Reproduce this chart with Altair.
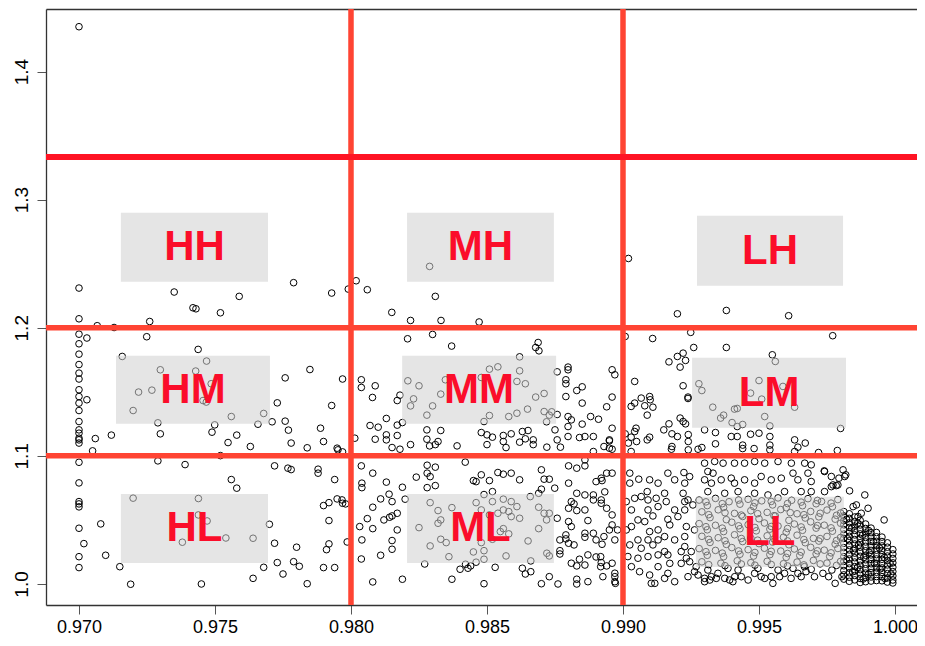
import altair as alt
import pandas as pd

# ---------------- data ----------------
# scatter points, grouped by region of the plot
pts_left = [
    (0.9700, 1.435),
    (0.9700, 1.231), (0.9700, 1.207), (0.97067, 1.2016), (0.97129, 1.2002), (0.9700, 1.195), (0.9700, 1.1875),
    (0.97029, 1.192), (0.9700, 1.1794), (0.9700, 1.1713), (0.9700, 1.1646), (0.9700, 1.160), (0.9700, 1.1516),
    (0.9700, 1.1463), (0.97029, 1.1438), (0.9700, 1.1412), (0.9700, 1.1354), (0.9700, 1.1268), (0.9700, 1.1203),
    (0.9700, 1.1177), (0.9700, 1.1138), (0.9700, 1.110), (0.9700, 1.1125), (0.9706, 1.1135), (0.97119, 1.1162),
    (0.97159, 1.1776), (0.97249, 1.193), (0.97260, 1.2049), (0.97350, 1.2279), (0.97419, 1.2156), (0.9743, 1.2148),
    (0.97520, 1.2117), (0.97589, 1.2245), (0.97789, 1.2352), (0.97929, 1.2271), (0.97438, 1.1831), (0.97469, 1.174),
    (0.97299, 1.1672), (0.97429, 1.1662), (0.97486, 1.1563), (0.97219, 1.1498), (0.97268, 1.1513), (0.97456, 1.1432),
    (0.97468, 1.142), (0.97199, 1.1354), (0.9729, 1.1258), (0.97299, 1.1172), (0.97499, 1.1242), (0.97489, 1.1185),
    (0.9756, 1.1307), (0.9758, 1.1162), (0.97548, 1.1104), (0.9763, 1.1073), (0.97679, 1.1331), (0.97658, 1.1247),
    (0.97729, 1.1414), (0.97758, 1.1609), (0.9771, 1.1266), (0.97758, 1.1271), (0.9777, 1.1201), (0.9778, 1.110),
    (0.97849, 1.1674), (0.97929, 1.1393), (0.97888, 1.1216), (0.97899, 1.1112), (0.97969, 1.160), (0.97839, 1.1063),
    (0.97949, 1.106), (0.9705, 1.1039), (0.9700, 1.095), (0.9729, 1.0961), (0.9739, 1.0932), (0.9752, 1.1002),
    (0.97719, 1.0922), (0.97768, 1.0904), (0.9778, 1.0893), (0.97879, 1.0896), (0.97879, 1.0865), (0.9794, 1.0815),
    (0.9756, 1.0815), (0.9758, 1.0748), (0.9700, 1.0789), (0.9700, 1.0643), (0.9700, 1.0625), (0.9700, 1.0602),
    (0.9700, 1.0435), (0.9708, 1.0469), (0.97018, 1.0315), (0.9700, 1.0213), (0.9700, 1.0128), (0.97098, 1.0224),
    (0.9715, 1.0135), (0.9719, 0.9998), (0.97199, 1.067), (0.97439, 1.0667), (0.97439, 1.0539), (0.97471, 1.0492),
    (0.9738, 1.0326), (0.9754, 1.0359), (0.9764, 1.0357), (0.9770, 1.0466), (0.9745, 1.000), (0.9764, 1.0044),
    (0.97679, 1.013), (0.97719, 1.0318), (0.97729, 1.0167), (0.9775, 1.0078), (0.97789, 1.0174), (0.9780, 1.0287),
    (0.9781, 1.0138), (0.97839, 1.0002), (0.97899, 1.0612), (0.97919, 1.0635), (0.97949, 1.0664), (0.97969, 1.063),
    (0.97919, 1.0495), (0.97919, 1.0313), (0.9791, 1.0268), (0.97899, 1.0128), (0.9794, 1.0128), (0.97986, 1.0328),
    (0.9799, 1.2302), (0.97952, 1.1047), (0.97969, 1.1031), (0.97967, 1.0656), (0.9798, 1.0625),
]

pts_mid = [
    (0.98019, 1.2367), (0.9806, 1.2297), (0.9831, 1.2245), (0.9815, 1.212), (0.98219, 1.2057), (0.98331, 1.2057),
    (0.98471, 1.2045), (0.98289, 1.2479),
    (0.98208, 1.1914), (0.983, 1.1948), (0.9837, 1.1857), (0.98679, 1.1846), (0.98688, 1.1885), (0.98691, 1.182),
    (0.98038, 1.1594), (0.98038, 1.1534), (0.98089, 1.1547), (0.98079, 1.1456), (0.9817, 1.1432), (0.9818, 1.1474),
    (0.98209, 1.1586), (0.9825, 1.1547), (0.9823, 1.1445), (0.98219, 1.139), (0.9833, 1.1482), (0.983, 1.139),
    (0.98279, 1.1318), (0.98347, 1.1594), (0.98479, 1.1612), (0.98509, 1.1677), (0.9854, 1.1695), (0.9862, 1.1773),
    (0.9862, 1.1664), (0.9861, 1.1581), (0.98641, 1.1563), (0.98679, 1.1459), (0.9871, 1.1487), (0.98649, 1.1365),
    (0.9861, 1.1333), (0.9858, 1.1307), (0.98509, 1.1315), (0.98489, 1.1268), (0.9871, 1.1346), (0.98719, 1.1266),
    (0.98738, 1.1344), (0.98729, 1.1318), (0.98758, 1.1656), (0.98798, 1.1693), (0.98798, 1.1672), (0.9879, 1.1594),
    (0.9879, 1.1563), (0.9879, 1.1463), (0.9883, 1.151), (0.9885, 1.1539), (0.9885, 1.1412), (0.98758, 1.1323),
    (0.98798, 1.1307), (0.9881, 1.1281), (0.98798, 1.1229), (0.9885, 1.1248), (0.98881, 1.1307), (0.9891, 1.1286),
    (0.9894, 1.1383), (0.9896, 1.1459), (0.9896, 1.1672), (0.9897, 1.1633), (0.9896, 1.1216),
    (0.9813, 1.1292), (0.9807, 1.1237), (0.981, 1.1224), (0.9817, 1.124), (0.98189, 1.126), (0.9813, 1.1164),
    (0.9813, 1.1125), (0.9817, 1.1159), (0.98089, 1.113), (0.98151, 1.1065), (0.9818, 1.1052), (0.98219, 1.1088),
    (0.98279, 1.1203), (0.98279, 1.113), (0.9833, 1.1198), (0.9832, 1.1112), (0.9831, 1.1088), (0.98289, 1.1078),
    (0.9839, 1.1078), (0.98479, 1.1182), (0.985, 1.1164), (0.9852, 1.1146), (0.985, 1.1088), (0.9856, 1.1159),
    (0.9856, 1.1112), (0.9857, 1.1065), (0.98589, 1.1172), (0.9862, 1.1107), (0.9863, 1.119), (0.98651, 1.1198),
    (0.98641, 1.1133), (0.9867, 1.1125), (0.9867, 1.1088), (0.9872, 1.1068), (0.9875, 1.1203), (0.98758, 1.1125),
    (0.9877, 1.1068), (0.98798, 1.1151), (0.9884, 1.1143), (0.9886, 1.1151), (0.98891, 1.1151), (0.98891, 1.1034),
    (0.9893, 1.1073), (0.9895, 1.1117), (0.9896, 1.1052), (0.98014, 1.1138),
    (0.98038, 1.0922), (0.9808, 1.0865), (0.9804, 1.0787), (0.9804, 1.0752), (0.9813, 1.0795), (0.98189, 1.0755),
    (0.9814, 1.0701), (0.98151, 1.0643), (0.98109, 1.0664), (0.9808, 1.0599), (0.9806, 1.051), (0.98121, 1.05),
    (0.98142, 1.0521), (0.98151, 1.0531), (0.9817, 1.0552), (0.98032, 1.0448), (0.9808, 1.0432), (0.9817, 1.0422),
    (0.9804, 1.0344), (0.98151, 1.0339), (0.98151, 1.0271), (0.98038, 1.0195), (0.98109, 1.0224), (0.9808, 1.0016),
    (0.98189, 1.0037), (0.98199, 1.0662), (0.9824, 1.0834), (0.9828, 1.0927), (0.9831, 1.0912), (0.9828, 1.0865),
    (0.98291, 1.0838), (0.9828, 1.0752), (0.9831, 1.0768), (0.9825, 1.044), (0.98291, 1.0635), (0.9832, 1.0573),
    (0.9833, 1.05), (0.9832, 1.0474), (0.98291, 1.0297), (0.9833, 1.0349), (0.9835, 1.0323), (0.98271, 1.0156),
    (0.9836, 1.0213), (0.98371, 1.0037), (0.98371, 1.0596), (0.9842, 1.0951), (0.9845, 1.0807), (0.9846, 1.0799),
    (0.98479, 1.0852), (0.98509, 1.0807), (0.9852, 1.0721), (0.98489, 1.0698), (0.9846, 1.0635), (0.9854, 1.087),
    (0.9856, 1.0857), (0.98589, 1.0865), (0.9862, 1.0813), (0.98479, 1.0578), (0.98509, 1.0539), (0.9854, 1.0552),
    (0.9856, 1.0578), (0.9858, 1.0565), (0.98589, 1.0526), (0.9861, 1.0604), (0.9862, 1.0513), (0.9852, 1.0643),
    (0.9856, 1.0662), (0.98589, 1.0643), (0.9856, 1.0432), (0.98549, 1.0409), (0.9858, 1.0391), (0.98479, 1.0323),
    (0.9852, 1.0349), (0.9845, 1.025), (0.98489, 1.026), (0.9857, 1.0219), (0.98421, 1.0154), (0.9844, 1.0141),
    (0.9846, 1.017), (0.98489, 1.0193), (0.98401, 1.0115), (0.9843, 1.0123), (0.9853, 1.013), (0.98489, 1.0002),
    (0.98651, 1.0336), (0.98661, 1.018), (0.9863, 1.0123), (0.98641, 1.0078), (0.98661, 1.0096), (0.9869, 1.0599),
    (0.9869, 1.0432), (0.987, 1.074), (0.9871, 1.0552), (0.98729, 1.0552), (0.98719, 1.05), (0.98659, 1.0682),
    (0.9869, 1.0708), (0.9872, 1.024), (0.98729, 1.0219), (0.98729, 1.0057), (0.987, 1.0002), (0.98761, 1.0),
    (0.987, 1.0891), (0.9871, 1.0818), (0.98729, 1.0818), (0.98749, 1.0748), (0.98758, 1.0513), (0.98768, 1.0344),
    (0.98768, 1.026), (0.98768, 1.0234), (0.9879, 1.0383), (0.9879, 1.0352), (0.988, 1.0487), (0.988, 1.0591),
    (0.9881, 1.0643), (0.988, 1.0787), (0.988, 1.0922), (0.9883, 1.0904), (0.9886, 1.0922), (0.9886, 1.0969),
    (0.9882, 1.0625), (0.9883, 1.0573), (0.9886, 1.0578), (0.98871, 1.0495), (0.9883, 1.0708), (0.9886, 1.0695),
    (0.98891, 1.0695), (0.98891, 1.0656), (0.9892, 1.0656), (0.9881, 1.0448), (0.9886, 1.0396), (0.9886, 1.0365),
    (0.98891, 1.0396), (0.98901, 1.0344), (0.9893, 1.037), (0.988, 1.0318), (0.9882, 1.0305), (0.9884, 1.0193),
    (0.98871, 1.0227), (0.98901, 1.0211), (0.9881, 1.0162), (0.9883, 1.0141), (0.9886, 1.0148), (0.9883, 1.0037),
    (0.9883, 1.0), (0.98871, 1.0018), (0.9892, 1.0167), (0.9894, 1.0141), (0.9896, 1.0162), (0.9897, 1.0084),
    (0.9897, 1.0057), (0.9897, 1.0018), (0.98901, 1.0799), (0.9892, 1.0826), (0.9894, 1.0865), (0.9896, 1.0865),
    (0.9892, 1.063), (0.9894, 1.0591), (0.9896, 1.0539), (0.9896, 1.0461), (0.9895, 1.0422), (0.9897, 1.0344),
    (0.9898, 1.0422), (0.98923, 1.0807), (0.98933, 1.0719), (0.98923, 1.031), (0.98918, 1.0213), (0.98918, 1.0135),
    (0.98926, 1.0057), (0.98972, 1.0005), (0.9895, 1.1125), (0.9895, 1.106),
]

pts_right = [
    (0.99008, 1.1932), (0.99043, 1.1581), (0.9903, 1.1386), (0.99043, 1.1412), (0.99048, 1.1216), (0.99008, 1.1172),
    (0.9903, 1.1146), (0.99043, 1.119), (0.9902, 1.2541),
    (0.9920, 1.2109), (0.9938, 1.2135), (0.99609, 1.2094), (0.99109, 1.1916), (0.99249, 1.1964), (0.9926, 1.1846),
    (0.9938, 1.1846), (0.99771, 1.1938), (0.99549, 1.1789), (0.9956, 1.1737), (0.992, 1.1776), (0.99221, 1.1802),
    (0.9923, 1.1745), (0.9921, 1.1693), (0.99169, 1.1734), (0.99221, 1.1547), (0.99279, 1.1563), (0.9929, 1.151),
    (0.995, 1.1588), (0.99469, 1.149), (0.9951, 1.1443), (0.99588, 1.1542), (0.99631, 1.138), (0.9933, 1.138),
    (0.99359, 1.1295), (0.9937, 1.1318), (0.9941, 1.1365), (0.9942, 1.137), (0.99401, 1.126), (0.9942, 1.1229),
    (0.9944, 1.1245), (0.99521, 1.1307), (0.9954, 1.1234), (0.998, 1.1214), (0.99239, 1.1459), (0.99239, 1.1448),
    (0.99067, 1.1451), (0.99098, 1.1463), (0.991, 1.1438), (0.9908, 1.1391), (0.9911, 1.138), (0.99089, 1.1318),
    (0.9921, 1.1295), (0.99221, 1.1268), (0.9923, 1.125), (0.99169, 1.125), (0.9915, 1.1203), (0.9918, 1.1172),
    (0.992, 1.1151), (0.9924, 1.1166), (0.993, 1.1203), (0.9934, 1.1182), (0.9934, 1.1094), (0.99398, 1.1151),
    (0.9942, 1.1151), (0.99469, 1.1169), (0.995, 1.1177), (0.9954, 1.1151), (0.99631, 1.1125), (0.9967, 1.110),
    (0.99643, 1.1068), (0.99631, 1.1034), (0.99719, 1.1026), (0.99788, 1.1042), (0.9924, 1.1112), (0.9924, 1.1047),
    (0.99276, 1.1052), (0.9929, 1.1065), (0.9944, 1.1084), (0.9944, 1.1057), (0.99482, 1.1057), (0.9954, 1.1084),
    (0.9954, 1.1047), (0.99178, 1.1052), (0.9918, 1.1073), (0.9902, 1.110), (0.9905, 1.1112), (0.9903, 1.1034),
    (0.99098, 1.1146), (0.99089, 1.1125),
    # below the 1.1 line, right of 0.99
    (0.99025, 1.0865), (0.99058, 1.0818), (0.99025, 1.0787), (0.99098, 1.0813), (0.99129, 1.0787), (0.99089, 1.0721),
    (0.99043, 1.0669), (0.99067, 1.0682), (0.99012, 1.0643), (0.99031, 1.0578), (0.99092, 1.0656), (0.99122, 1.0669),
    (0.99153, 1.0708), (0.99159, 1.0643), (0.99129, 1.0604), (0.99092, 1.0578), (0.9911, 1.0531), (0.99055, 1.05),
    (0.9908, 1.0487), (0.99031, 1.0448), (0.99012, 1.0422), (0.99098, 1.0409), (0.99129, 1.0422), (0.99165, 1.0505),
    (0.99172, 1.0461), (0.99202, 1.0526), (0.99227, 1.0578), (0.9919, 1.0578), (0.99227, 1.0643), (0.99221, 1.0708),
    (0.99227, 1.0787), (0.9919, 1.0813), (0.99165, 1.0865), (0.99224, 1.087), (0.99245, 1.0838), (0.99239, 1.0656),
    (0.99257, 1.0617), (0.99233, 1.0448), (0.99263, 1.0422), (0.99227, 1.037), (0.9919, 1.0344), (0.99153, 1.037),
    (0.99129, 1.0344), (0.99092, 1.0344), (0.99055, 1.0344), (0.99025, 1.0305), (0.99067, 1.0279), (0.9911, 1.0305),
    (0.99153, 1.0253), (0.99165, 1.0227), (0.99129, 1.0227), (0.99092, 1.0214), (0.99055, 1.0201), (0.99018, 1.0214),
    (0.99031, 1.0135), (0.99061, 1.0096), (0.99098, 1.007), (0.99104, 1.0005), (0.99117, 1.0005), (0.99153, 1.0044),
    (0.9919, 1.0018), (0.99165, 1.0083), (0.99129, 1.0135), (0.99172, 1.0161), (0.99214, 1.0161), (0.99233, 1.0201),
    (0.99227, 1.0292), (0.99214, 1.0253), (0.99251, 1.0253), (0.99245, 1.0174), (0.99269, 1.0135), (0.99263, 1.0096),
    (0.99239, 1.0057), (0.99276, 1.007), (0.993, 1.0044), (0.993, 1.0018), (0.99319, 1.0031), (0.99325, 1.0057),
    (0.99343, 1.0044), (0.99349, 1.0083), (0.99374, 1.0044), (0.99392, 1.0031), (0.99411, 1.0057), (0.99404, 1.0018),
    (0.99435, 1.0057), (0.9946, 1.0031), (0.99484, 1.0083), (0.99508, 1.0057), (0.99521, 1.0044), (0.99545, 1.0057),
    (0.99551, 1.0005), (0.99576, 1.0057), (0.99594, 1.0083), (0.99618, 1.0044), (0.99643, 1.0083), (0.99655, 1.0057),
    (0.99673, 1.0096), (0.99704, 1.0057), (0.99735, 1.0083), (0.99756, 1.0057), (0.9978, 1.0005), (0.99805, 1.0057),
    (0.99312, 1.0109), (0.99386, 1.0122), (0.99423, 1.0109), (0.99496, 1.0122), (0.9957, 1.0109), (0.99625, 1.0122),
    (0.99667, 1.0135), (0.99692, 1.0114), (0.99768, 1.0109),
    (0.99300, 1.0943), (0.99337, 1.0956), (0.99368, 1.0943), (0.9941, 1.0943), (0.99447, 1.0943), (0.99484, 1.0956),
    (0.99521, 1.0943), (0.9957, 1.0956), (0.99619, 1.0943), (0.99668, 1.0943), (0.99692, 1.093), (0.99312, 1.0878),
    (0.99331, 1.0865), (0.993, 1.0813), (0.99325, 1.0787), (0.99361, 1.0813), (0.99398, 1.0826), (0.9941, 1.0787),
    (0.99447, 1.0813), (0.99484, 1.0787), (0.99508, 1.0839), (0.99545, 1.0813), (0.99582, 1.0826), (0.99625, 1.0865),
    (0.99643, 1.0813), (0.9968, 1.0865), (0.99692, 1.08), (0.99741, 1.0878), (0.99766, 1.0839), (0.9979, 1.0773),
    (0.99809, 1.0891), (0.99815, 1.0839), (0.99655, 1.0721), (0.99692, 1.0721), (0.99741, 1.0721), (0.99766, 1.076),
    (0.99312, 1.0721), (0.99374, 1.0708), (0.99423, 1.0721), (0.99484, 1.0708), (0.99533, 1.0695), (0.99594, 1.0721),
    (0.99819, 1.0852), (0.99794, 1.0826), (0.9974, 1.0883), (0.99772, 1.0773), (0.99784, 1.0768), (0.99833, 1.0727),
    (0.99889, 1.0695), (0.99901, 1.0591), (0.9996, 1.050), (0.99858, 1.0617), (0.99846, 1.0604), (0.99876, 1.0552),
    (0.99864, 1.0526),
]

pts_ll = [
    (0.9928, 1.0655), (0.9934, 1.0668), (0.9939, 1.0642), (0.9946, 1.0661), (0.9951, 1.0649), (0.9957, 1.0672),
    (0.9962, 1.0653), (0.9968, 1.0666), (0.9973, 1.0644), (0.9979, 1.0659),
    (0.9931, 1.0612), (0.9937, 1.0598), (0.9943, 1.0623), (0.9948, 1.0604), (0.9955, 1.0617), (0.9960, 1.0595),
    (0.9966, 1.0611), (0.9971, 1.0626), (0.9977, 1.0603),
    (0.9929, 1.0563), (0.9935, 1.0579), (0.9941, 1.0551), (0.9947, 1.0572), (0.9953, 1.0559), (0.9958, 1.0581),
    (0.9964, 1.0548), (0.9969, 1.0566), (0.9975, 1.0577), (0.9980, 1.0554),
    (0.9932, 1.0518), (0.9938, 1.0502), (0.9944, 1.0527), (0.9950, 1.0509), (0.9956, 1.0531), (0.9961, 1.0497),
    (0.9967, 1.0515), (0.9972, 1.0524), (0.9978, 1.0506),
    (0.9928, 1.0471), (0.9934, 1.0458), (0.9940, 1.0482), (0.9946, 1.0463), (0.9952, 1.0476), (0.9957, 1.0452),
    (0.9963, 1.0468), (0.9969, 1.0485), (0.9974, 1.0459), (0.9980, 1.0474),
    (0.9931, 1.0423), (0.9937, 1.0409), (0.9943, 1.0431), (0.9949, 1.0415), (0.9954, 1.0428), (0.9960, 1.0404),
    (0.9966, 1.0419), (0.9971, 1.0436), (0.9977, 1.0412),
    (0.9929, 1.0372), (0.9935, 1.0361), (0.9941, 1.0384), (0.9947, 1.0358), (0.9953, 1.0376), (0.9959, 1.0365),
    (0.9964, 1.0381), (0.9970, 1.0356), (0.9975, 1.0371), (0.9980, 1.0363),
    (0.9932, 1.0324), (0.9938, 1.0309), (0.9944, 1.0331), (0.9950, 1.0315), (0.9955, 1.0327), (0.9961, 1.0306),
    (0.9967, 1.0322), (0.9972, 1.0335), (0.9978, 1.0311),
    (0.9928, 1.0276), (0.9934, 1.0262), (0.9940, 1.0284), (0.9946, 1.0268), (0.9952, 1.0279), (0.9958, 1.0257),
    (0.9963, 1.0273), (0.9969, 1.0286), (0.9974, 1.0264), (0.9979, 1.0277),
    (0.9931, 1.0224), (0.9937, 1.0213), (0.9943, 1.0232), (0.9948, 1.0218), (0.9954, 1.0229), (0.9960, 1.0208),
    (0.9965, 1.0222), (0.9971, 1.0235), (0.9976, 1.0214),
    (0.9929, 1.0173), (0.9936, 1.0162), (0.9942, 1.0181), (0.9947, 1.0166), (0.9953, 1.0177), (0.9959, 1.0158),
    (0.9964, 1.0171), (0.9970, 1.0184), (0.9975, 1.0163), (0.9980, 1.0176),
    (0.99305, 1.0641), (0.99365, 1.0627), (0.99425, 1.0655), (0.99485, 1.0633), (0.99545, 1.0644), (0.99605, 1.0628),
    (0.99655, 1.0639), (0.99715, 1.0652), (0.99765, 1.0631),
    (0.99315, 1.0541), (0.99375, 1.0556), (0.99435, 1.0538), (0.99495, 1.0549), (0.99555, 1.0533), (0.99615, 1.0557),
    (0.99665, 1.0541), (0.99725, 1.0552), (0.99785, 1.0536),
    (0.99305, 1.0447), (0.99365, 1.0436), (0.99425, 1.0454), (0.99485, 1.0441), (0.99545, 1.0449), (0.99605, 1.0433),
    (0.99655, 1.0445), (0.99715, 1.0456), (0.99765, 1.0438),
    (0.99315, 1.0348), (0.99375, 1.0337), (0.99435, 1.0355), (0.99495, 1.0342), (0.99555, 1.0351), (0.99605, 1.0336),
    (0.99665, 1.0347), (0.99725, 1.0354), (0.99785, 1.0339),
    (0.99305, 1.0252), (0.99365, 1.0241), (0.99425, 1.0258), (0.99485, 1.0246), (0.99545, 1.0255), (0.99605, 1.0238),
    (0.99655, 1.0249), (0.99715, 1.0259), (0.99765, 1.0243),
    (0.99315, 1.0151), (0.99375, 1.0143), (0.99435, 1.0156), (0.99485, 1.0147), (0.99545, 1.0152), (0.99605, 1.0141),
    (0.99665, 1.0149), (0.99725, 1.0157), (0.99785, 1.0145),
]

# dense cluster in the bottom-right corner: one list of y values per x column
tri_x = [0.99812, 0.99832, 0.99852, 0.99872, 0.99892, 0.99912, 0.99932, 0.99952, 0.99972, 0.99992]
tri_y = [
    [1.0565, 1.0531, 1.0494, 1.0462, 1.0425, 1.0389, 1.0356, 1.0318, 1.0284, 1.0247, 1.0213, 1.0176, 1.0142, 1.0105, 1.0071, 1.0038],
    [1.0548, 1.0512, 1.0477, 1.0441, 1.0408, 1.0372, 1.0337, 1.0301, 1.0266, 1.0231, 1.0195, 1.0159, 1.0124, 1.0088, 1.0053, 1.0021],
    [1.0523, 1.0488, 1.0452, 1.0418, 1.0383, 1.0347, 1.0312, 1.0276, 1.0241, 1.0205, 1.0171, 1.0136, 1.0101, 1.0066, 1.0032],
    [1.0497, 1.0461, 1.0427, 1.0391, 1.0356, 1.0322, 1.0287, 1.0251, 1.0216, 1.0181, 1.0146, 1.0112, 1.0077, 1.0043, 1.0012],
    [1.0468, 1.0433, 1.0398, 1.0363, 1.0328, 1.0294, 1.0259, 1.0224, 1.0189, 1.0154, 1.0119, 1.0085, 1.0051, 1.0018],
    [1.0436, 1.0401, 1.0366, 1.0332, 1.0297, 1.0262, 1.0227, 1.0192, 1.0158, 1.0123, 1.0089, 1.0055, 1.0023],
    [1.0402, 1.0368, 1.0333, 1.0299, 1.0264, 1.0229, 1.0195, 1.0161, 1.0126, 1.0092, 1.0058, 1.0027],
    [1.0366, 1.0331, 1.0297, 1.0262, 1.0228, 1.0193, 1.0159, 1.0125, 1.0091, 1.0057, 1.0025],
    [1.0321, 1.0287, 1.0252, 1.0218, 1.0184, 1.0149, 1.0115, 1.0081, 1.0047, 1.0015],
    [1.0268, 1.0234, 1.0199, 1.0165, 1.0131, 1.0097, 1.0063, 1.0031, 1.0008],
]
# a few extra points scattered through the cluster
pts_tri_extra = [
    (0.99822, 1.0505), (0.99841, 1.0436), (0.99826, 1.0352), (0.99847, 1.0262), (0.99821, 1.0188), (0.99844, 1.0095),
    (0.99863, 1.0474), (0.99881, 1.0381), (0.99866, 1.0302), (0.99885, 1.0207), (0.99862, 1.0128), (0.99883, 1.0039),
    (0.99903, 1.0417), (0.99921, 1.0331), (0.99905, 1.0245), (0.99924, 1.0163), (0.99902, 1.0076), (0.99943, 1.0281),
    (0.99961, 1.0206), (0.99945, 1.0117), (0.99963, 1.0043), (0.99982, 1.0161), (0.99985, 1.0078),
]

# cut-off lines
v_lines = [0.980, 0.990]
h_lines = [1.1, 1.2]
h_top = [1.3333]

# labelled boxes
box_labels = ["HH", "MH", "LH", "HM", "MM", "LM", "HL", "ML", "LL"]
box_x1 = [0.97154, 0.98206, 0.99272, 0.97136, 0.98188, 0.99254, 0.97154, 0.98206, 0.99268]
box_x2 = [0.97695, 0.98746, 0.99809, 0.97702, 0.98754, 0.99820, 0.97695, 0.98746, 0.99812]
box_y1 = [1.2359, 1.2359, 1.2328, 1.1250, 1.1250, 1.1219, 1.0164, 1.0164, 1.0133]
box_y2 = [1.2898, 1.2898, 1.2875, 1.1781, 1.1781, 1.1766, 1.0703, 1.0703, 1.0680]

x_ticks = [0.970, 0.975, 0.980, 0.985, 0.990, 0.995, 1.000]
y_ticks = [1.0, 1.1, 1.2, 1.3, 1.4]

# ---------------- tables ----------------
pts_tri = [(tx, ty) for tx, col in zip(tri_x, tri_y) for ty in col] + pts_tri_extra
all_pts = pts_left + pts_mid + pts_right + pts_ll + pts_tri
df_pts = pd.DataFrame(all_pts, columns=["x", "y"])
df_v = pd.DataFrame({"x": v_lines})
df_h = pd.DataFrame({"y": h_lines})
df_ht = pd.DataFrame({"y": h_top})
df_box = pd.DataFrame({"label": box_labels, "x1": box_x1, "x2": box_x2, "y1": box_y1, "y2": box_y2})
df_box["cx"] = (df_box["x1"] + df_box["x2"]) / 2
df_box["cy"] = (df_box["y1"] + df_box["y2"]) / 2

FONT = "Liberation Sans"
FRAME = "#333333"
xs = alt.Scale(domain=[0.968787, 1.000809], nice=False, zero=False)
ys = alt.Scale(domain=[0.98359, 1.44883], nice=False, zero=False)
ax_x = alt.Axis(values=x_ticks, format=".3f", labelFont=FONT, labelFontSize=18, labelColor="black",
                tickSize=9, tickColor="#555555", tickWidth=1, labelPadding=4,
                domain=True, domainColor=FRAME, domainWidth=1.3, grid=False,
                title=None, labelFlush=False, labelOverlap=False)
ax_top = alt.Axis(orient="top", labels=False, ticks=False, domain=True, domainColor=FRAME,
                  domainWidth=1.3, grid=False, title=None)
ax_y = alt.Axis(values=y_ticks, format=".1f", labelFont=FONT, labelFontSize=19, labelColor="black",
                labelAngle=270, labelAlign="center", labelBaseline="bottom",
                tickSize=9, tickColor="#555555", tickWidth=1, labelPadding=6,
                domain=True, domainColor=FRAME, domainWidth=1.3, grid=False,
                title=None, labelOverlap=False)

points = alt.Chart(df_pts).mark_point(shape="circle", filled=False, color="black", size=44,
                                      strokeWidth=1.0, opacity=1).encode(
    x=alt.X("x:Q", scale=xs, axis=ax_x),
    y=alt.Y("y:Q", scale=ys, axis=ax_y),
)

vrules = alt.Chart(df_v).mark_rule(color="#ff4433", strokeWidth=5.5).encode(
    x=alt.X("x:Q", scale=xs, axis=ax_top)
)
hrules = alt.Chart(df_h).mark_rule(color="#ff4433", strokeWidth=5.5).encode(
    y=alt.Y("y:Q", scale=ys, axis=ax_y)
)
htop = alt.Chart(df_ht).mark_rule(color="#ff1424", strokeWidth=6).encode(
    y=alt.Y("y:Q", scale=ys, axis=ax_y)
)

boxes = alt.Chart(df_box).mark_rect(fill="#d0d0d0", opacity=0.55).encode(
    x=alt.X("x1:Q", scale=xs, axis=None), x2="x2:Q",
    y=alt.Y("y1:Q", scale=ys, axis=ax_y), y2="y2:Q",
)

labels = alt.Chart(df_box).mark_text(font=FONT, fontWeight="bold", fontSize=42, color="#fb0d2a",
                                     align="center", baseline="middle").encode(
    x=alt.X("cx:Q", scale=xs, axis=None),
    y=alt.Y("cy:Q", scale=ys, axis=ax_y),
    text="label:N",
)

chart = alt.layer(points, vrules, hrules, htop, boxes, labels).resolve_axis(
    x="independent"
).properties(
    width=871, height=596,
    autosize=alt.AutoSizeParams(type="none"),
    padding={"left": 38, "top": 1, "right": 0, "bottom": 32},
).configure_view(strokeWidth=0)

chart.save("out.html", embed_options={"renderer": "svg", "actions": False})
